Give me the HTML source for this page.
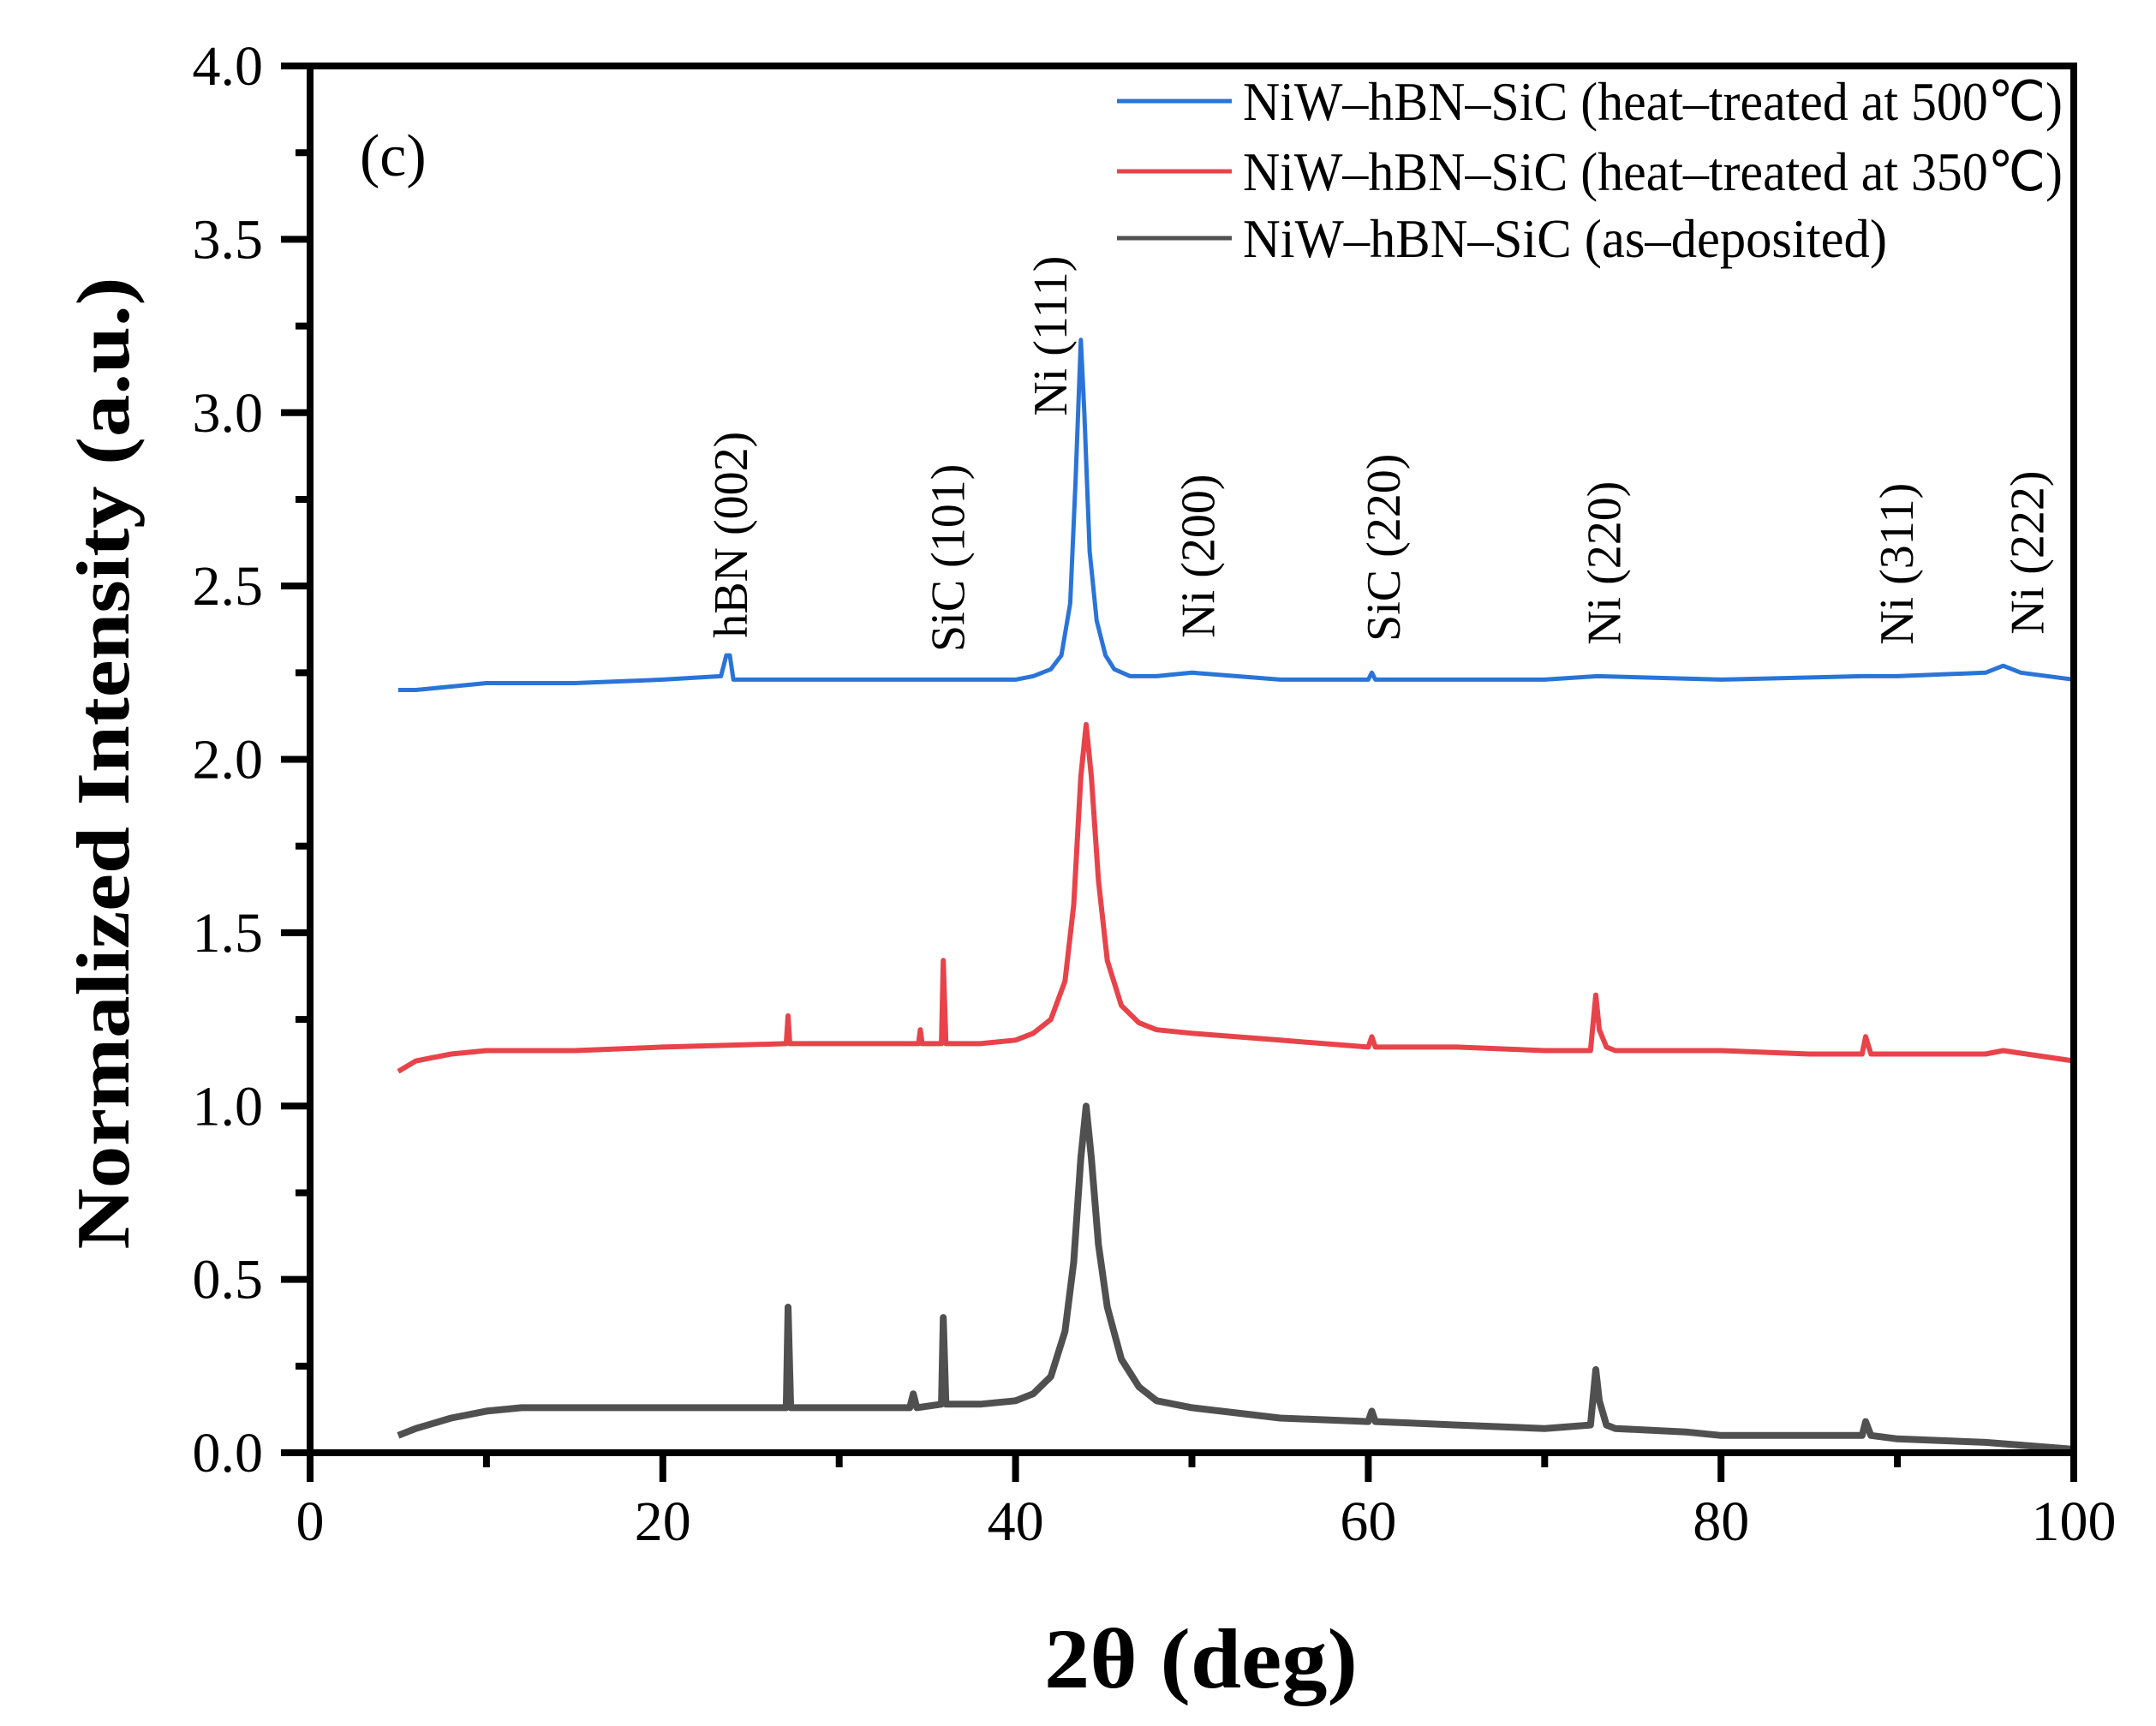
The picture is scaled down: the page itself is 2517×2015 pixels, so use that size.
<!DOCTYPE html>
<html><head><meta charset="utf-8"><style>
html,body{margin:0;padding:0;background:#fff;}
svg{display:block;}
text{font-family:"Liberation Serif",serif;}
</style></head><body>
<svg id="chart" width="2517" height="2015" viewBox="0 0 2517 2015" xmlns="http://www.w3.org/2000/svg">
<g id="series"></g>
<g id="axes"></g>
<g id="labels"></g>
<text x="420" y="205" font-size="70">(c)</text>
<text transform="translate(150,891) rotate(-90)" text-anchor="middle" font-size="88" font-weight="bold" textLength="1135" lengthAdjust="spacingAndGlyphs">Normalized Intensity (a.u.)</text>
<text x="1402" y="1970" text-anchor="middle" font-size="100" font-weight="bold" textLength="366" lengthAdjust="spacingAndGlyphs">2θ (deg)</text>
<g>
<line x1="1304" y1="118" x2="1438" y2="118" stroke="#2a74d8" stroke-width="5"/>
<text x="1451" y="140" font-size="64" textLength="957" lengthAdjust="spacingAndGlyphs">NiW–hBN–SiC (heat–treated at 500℃)</text>
<line x1="1304" y1="200" x2="1438" y2="200" stroke="#e8434a" stroke-width="5"/>
<text x="1451" y="222" font-size="64" textLength="957" lengthAdjust="spacingAndGlyphs">NiW–hBN–SiC (heat–treated at 350℃)</text>
<line x1="1304" y1="278" x2="1438" y2="278" stroke="#505050" stroke-width="5"/>
<text x="1451" y="300" font-size="64" textLength="752" lengthAdjust="spacingAndGlyphs">NiW–hBN–SiC (as–deposited)</text>
</g>
</svg>
<script>
const xTicks = [0,20,40,60,80,100];
const xTickLabels = ["0","20","40","60","80","100"];
const yTicks = [0,0.5,1,1.5,2,2.5,3,3.5,4];
const yTickLabels = ["0.0","0.5","1.0","1.5","2.0","2.5","3.0","3.5","4.0"];
const grayX = [5,6,8,10,12,16,20,24,27,27.1,27.25,30,34,34.2,34.4,35.8,35.9,36.05,38,40,41,42,42.8,43.3,43.7,44,44.3,44.7,45.2,46,47,48,50,55,60,60.2,60.4,65,70,72.6,72.9,73.1,73.5,74,78,80,85,88,88.2,88.5,90,95,100];
const grayY = [0.05,0.07,0.1,0.12,0.13,0.13,0.13,0.13,0.13,0.42,0.13,0.13,0.13,0.17,0.13,0.14,0.39,0.14,0.14,0.15,0.17,0.22,0.35,0.55,0.85,1.0,0.85,0.6,0.42,0.27,0.19,0.15,0.13,0.1,0.09,0.12,0.09,0.08,0.07,0.08,0.24,0.15,0.08,0.07,0.06,0.05,0.05,0.05,0.09,0.05,0.04,0.03,0.01];
const redX = [5,6,8,10,15,20,27,27.1,27.2,30,34.5,34.6,34.7,35.8,35.9,36.05,38,40,41,42,42.8,43.3,43.7,44,44.3,44.7,45.2,46,47,48,50,55,60,60.2,60.4,65,70,72.6,72.9,73.1,73.5,74,80,85,88,88.2,88.5,90,95,96,100];
const redY = [1.1,1.13,1.15,1.16,1.16,1.17,1.18,1.26,1.18,1.18,1.18,1.22,1.18,1.18,1.42,1.18,1.18,1.19,1.21,1.25,1.36,1.58,1.95,2.1,1.95,1.65,1.42,1.29,1.24,1.22,1.21,1.19,1.17,1.2,1.17,1.17,1.16,1.16,1.32,1.22,1.17,1.16,1.16,1.15,1.15,1.2,1.15,1.15,1.15,1.16,1.13];
const blueX = [5,6,8,10,15,20,23.3,23.6,23.8,24,30,35,38,40,41,42,42.6,43.1,43.4,43.7,43.9,44.2,44.6,45.1,45.6,46.5,48,50,55,60,60.2,60.4,70,73,80,88,90,95,96,97,100];
const blueY = [2.2,2.2,2.21,2.22,2.22,2.23,2.24,2.3,2.3,2.23,2.23,2.23,2.23,2.23,2.24,2.26,2.3,2.45,2.8,3.21,3.0,2.6,2.4,2.3,2.26,2.24,2.24,2.25,2.23,2.23,2.25,2.23,2.23,2.24,2.23,2.24,2.24,2.25,2.27,2.25,2.23];
const peakNames = ["hBN (002)","SiC (101)","Ni (111)","Ni (200)","SiC (220)","Ni (220)","Ni (311)","Ni (222)"];
const peakPos = [23.9,36.2,42.0,50.4,60.9,73.4,90.0,97.4];
const peakLabelBase = [2.35,2.31,2.99,2.35,2.34,2.33,2.33,2.36];

const X0=362, X1=2421, Y0=1696, Y1=77;
function sx(v){return X0+(v-0)/(100-0)*(X1-X0);}
function sy(v){return Y0-(v-0)/(4-0)*(Y0-Y1);}
const NS="http://www.w3.org/2000/svg";
function mk(tag,attrs,parent){const e=document.createElementNS(NS,tag);for(const k in attrs)e.setAttribute(k,attrs[k]);parent.appendChild(e);return e;}

const sg=document.getElementById('series');
function drawSeries(xs,ys,color,name,w){
  let d='';
  for(let i=0;i<xs.length;i++){d+=(i?'L':'M')+sx(xs[i]).toFixed(1)+' '+sy(ys[i]).toFixed(1);}
  const p=mk('path',{d:d,fill:'none',stroke:color,'stroke-width':w,'stroke-linejoin':'round'},sg);
  
  
}
drawSeries(grayX,grayY,'#505050','series-as-deposited',8);
drawSeries(redX,redY,'#e8434a','series-350c',6);
drawSeries(blueX,blueY,'#2a74d8','series-500c',5);

const ag=document.getElementById('axes');
const frame=mk('path',{d:`M${X0} ${Y0}L${X1} ${Y0}L${X1} ${Y1}L${X0} ${Y1}Z`,fill:'none',stroke:'#000','stroke-width':8},ag);


for(let v=0;v<=100;v+=10){
  const major=v%20===0;
  const t=mk('line',{x1:sx(v),y1:Y0,x2:sx(v),y2:Y0+(major?34:17),stroke:'#000','stroke-width':8},ag);
  
  
}
for(let i=0;i<=16;i++){
  const v=i*0.25, major=i%2===0;
  const t=mk('line',{x1:X0,y1:sy(v),x2:X0-(major?34:17),y2:sy(v),stroke:'#000','stroke-width':8},ag);
  
  
}
xTicks.forEach((v,i)=>{
  const t=mk('text',{x:sx(v),y:1798,'text-anchor':'middle','font-size':66},ag);
  t.textContent=xTickLabels[i];
  
  
});
yTicks.forEach((v,i)=>{
  const t=mk('text',{x:307,y:sy(v)+22,'text-anchor':'end','font-size':66},ag);
  t.textContent=yTickLabels[i];
  
  
});
const lg=document.getElementById('labels');
peakNames.forEach((n,i)=>{
  const x=sx(peakPos[i])+18, y=sy(peakLabelBase[i]);
  const t=mk('text',{transform:`translate(${x.toFixed(1)},${y.toFixed(1)}) rotate(-90)`,'font-size':56},lg);
  t.textContent=n;
  
  
});
</script>
</body></html>
